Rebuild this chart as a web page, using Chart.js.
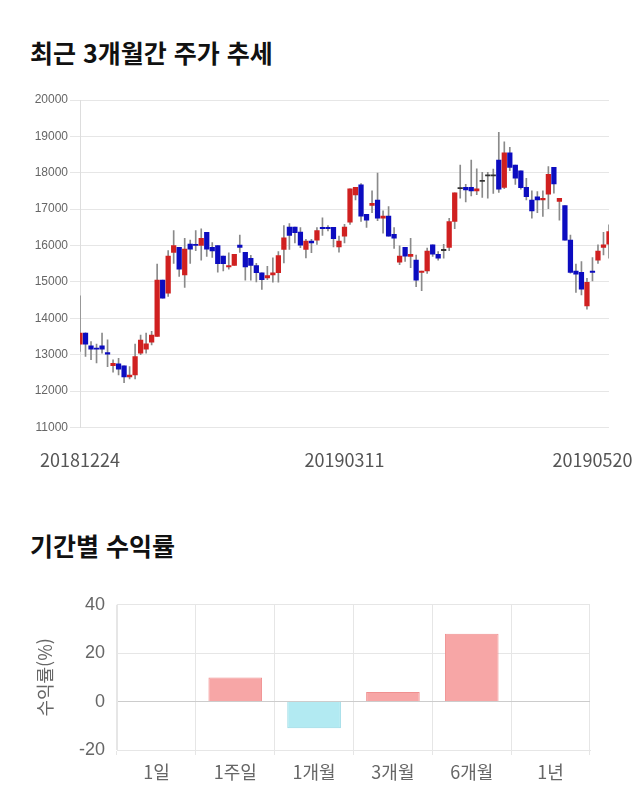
<!DOCTYPE html>
<html lang="ko">
<head>
<meta charset="utf-8">
<title>최근 3개월간 주가 추세</title>
<script src="https://cdn.jsdelivr.net/npm/chart.js@4.4.1/dist/chart.umd.min.js"></script>
<style>
  body { margin: 0; width: 640px; height: 810px; background: #fff; position: relative; font-family: "Noto Sans CJK KR", sans-serif; }
  h2 { position: absolute; left: 30px; margin: 0; font-size: 25px; font-weight: bold; color: #111; line-height: 32px; }
  #t1 { top: 36px; }
  #t2 { top: 529px; }
  .box { position: absolute; left: 0; width: 640px; }
  #b1 { top: 80px; height: 413px; }
  #b2 { top: 582px; height: 218px; }
</style>
</head>
<body>
<h2 id="t1">최근 3개월간 주가 추세</h2>
<div class="box" id="b1"><canvas id="candle"></canvas></div>
<h2 id="t2">기간별 수익률</h2>
<div class="box" id="b2"><canvas id="returns"></canvas></div>
<script>
// 일봉 데이터 (2018.12.24 ~ 2019.05.20)
const dates = [
  '20181224','20181226','20181227','20181228',
  '20190102','20190103','20190104','20190107','20190108','20190109','20190110','20190111',
  '20190114','20190115','20190116','20190117','20190118','20190121','20190122','20190123',
  '20190124','20190125','20190128','20190129','20190130','20190131',
  '20190201','20190207','20190208','20190211','20190212','20190213','20190214','20190215',
  '20190218','20190219','20190220','20190221','20190222','20190225','20190226','20190227','20190228',
  '20190304','20190305','20190306','20190307','20190308','20190311','20190312','20190313',
  '20190314','20190315','20190318','20190319','20190320','20190321','20190322','20190325',
  '20190326','20190327','20190328','20190329',
  '20190401','20190402','20190403','20190404','20190405','20190408','20190409','20190410',
  '20190411','20190412','20190415','20190416','20190417','20190418','20190419','20190422',
  '20190423','20190424','20190425','20190426','20190429','20190430',
  '20190502','20190503','20190507','20190508','20190509','20190510','20190513','20190514',
  '20190515','20190516','20190517','20190520'
];
const opens = [
  13290,13590,13240,13160,13240,13060,12700,12750,12690,12390,12440,13040,13150,13340,13500,15050,
  14690,15810,15950,15190,16040,16030,16000,16360,15950,16000,15710,15410,15450,16010,15810,15650,
  15450,15250,15110,15190,15250,15890,16510,16510,16370,15890,16120,16150,16500,16500,16500,15960,
  16260,16640,17390,17665,16860,17100,17250,16750,16810,16310,15540,15950,15700,15600,15260,15300,
  16020,15760,15860,15950,16660,17560,17600,17600,17500,17760,17910,17910,18350,17600,18550,18210,
  18050,17600,17250,17340,17250,17410,18150,17210,17100,16150,15300,15260,14340,15300,15600,15950,
  16040
];
const highs = [
  14620,13600,13360,13290,13590,13410,12860,12900,12690,12670,13290,13540,13590,13640,15490,15050,
  15860,16410,15950,16200,16150,16410,16460,16360,16080,16000,15710,15800,15760,16290,15810,15730,
  15510,15250,15430,15660,15830,16550,16600,16510,16490,16170,16170,16490,16760,16550,16500,16260,
  16580,17560,17600,17700,16860,17500,17990,16950,17070,16490,15990,15950,16200,15740,15300,15930,
  16020,15830,16030,16750,17450,18210,17680,18350,18110,18010,18010,18100,19110,18850,18700,18210,
  18050,17850,17500,17480,17500,18170,18150,17300,17100,16290,15490,15560,15100,15670,16020,16360,
  16570
];
const lows = [
  13090,12950,12860,12770,13040,12670,12520,12440,12230,12330,12330,13000,13040,13270,13500,14550,
  14600,15510,15150,14850,15510,15860,15600,15700,15670,15270,15300,15350,15450,15810,15050,15050,
  15000,14790,15060,14990,14990,15520,15890,16070,15940,15660,15800,16030,16280,16400,15960,15820,
  16070,16580,17250,16660,16500,16900,16680,16340,16260,15920,15470,15560,15390,14870,14760,15230,
  15700,15600,15650,15860,16460,17300,17200,17360,17400,17320,17300,17430,17460,17560,18060,17680,
  17550,17250,16750,16900,16800,17010,17440,16700,16150,15240,14710,14640,14250,15030,15510,15740,
  15650
];
const closes = [
  13590,13290,13150,13150,13150,13010,12760,12600,12390,12440,12950,13400,13300,13540,15050,14550,
  15710,16000,15350,15900,15900,16000,16200,15900,15850,15500,15500,15450,15760,15950,15410,15450,
  15250,15060,15170,15250,15720,16210,16280,16350,16010,16120,16070,16410,16460,16460,16190,16120,
  16510,17560,17600,16810,16700,17160,16750,16810,16260,16200,15710,15710,15760,15050,15300,15850,
  15760,15650,15860,16660,17450,17560,17530,17500,17560,17760,17910,17910,17550,18550,18150,17850,
  17590,17340,16950,17250,17300,17960,17690,17300,16150,15260,15210,14800,14990,15260,15850,16020,
  16380
];
const priceTicks = ['20181224', '20190311', '20190520'];

// 기간별 수익률
const periods = ['1일', '1주일', '1개월', '3개월', '6개월', '1년'];
const returns = [0, 10, -11, 4, 28, 0];

const UP = '#d02020', DOWN = '#0c0cc0', FLAT = '#333333';
const bodyColors = opens.map((o, i) => closes[i] > o ? UP : (closes[i] < o ? DOWN : FLAT));

new Chart(document.getElementById('candle'), {
  type: 'bar',
  data: {
    labels: dates,
    datasets: [
      {
        label: '시가/종가',
        data: dates.map((d, i) => [opens[i], closes[i]]),
        backgroundColor: bodyColors,
        borderWidth: 0,
        barThickness: 4.6,
        minBarLength: 1.2,
        grouped: false
      },
      {
        label: '고가/저가',
        data: dates.map((d, i) => [lows[i], highs[i]]),
        backgroundColor: '#8a8a8a',
        borderWidth: 0,
        barThickness: 1,
        grouped: false
      }
    ]
  },
  options: {
    responsive: true,
    maintainAspectRatio: false,
    animation: false,
    layout: { padding: { top: 20, right: 31, bottom: 0, left: 0 } },
    plugins: { legend: { display: false }, tooltip: { enabled: false } },
    scales: {
      x: {
        offset: false,
        grid: { display: false, drawTicks: false },
        border: { display: false },
        afterBuildTicks: axis => { axis.ticks = [0, 48, 93].map(v => ({ value: v })); },
        afterFit: axis => { axis.paddingLeft = 0; axis.paddingRight = 0; },
        ticks: {
          autoSkip: false,
          maxRotation: 0,
          padding: 22,
          color: '#555',
          font: { family: 'Noto Sans CJK KR', size: 18 },
          callback: (v, i) => priceTicks[i]
        }
      },
      y: {
        min: 11000,
        max: 20000,
        afterFit: s => { s.width = 80; },
        grid: { color: '#e6e6e6', tickLength: 10 },
        border: { display: true, color: '#dddddd' },
        ticks: {
          stepSize: 1000,
          padding: 2,
          color: '#666',
          font: { family: 'Liberation Sans', size: 12 },
          callback: v => String(v)
        }
      }
    }
  }
});

new Chart(document.getElementById('returns'), {
  type: 'bar',
  data: {
    labels: periods,
    datasets: [{
      label: '수익률',
      data: returns,
      backgroundColor: returns.map(v => v >= 0 ? '#f7a6a6' : '#b2eaf2'),
      borderColor: returns.map(v => v >= 0 ? '#f09090' : '#94d8e4'),
      borderWidth: 1,
      categoryPercentage: 0.8,
      barPercentage: 0.85
    }]
  },
  options: {
    responsive: true,
    maintainAspectRatio: false,
    animation: false,
    layout: { padding: { top: 2, right: 50, bottom: 11.4, left: 30 } },
    plugins: { legend: { display: false }, tooltip: { enabled: false } },
    scales: {
      x: {
        grid: { color: '#e6e6e6', tickLength: 5 },
        border: { color: '#e6e6e6' },
        ticks: {
          padding: 6,
          color: '#666',
          font: { family: 'Noto Sans CJK KR', size: 18 }
        }
      },
      y: {
        min: -20,
        max: 40,
        afterFit: s => { s.width = 87; },
        grid: {
          drawTicks: false,
          color: ctx => ctx.tick.value === 0 ? '#cccccc' : '#e6e6e6'
        },
        border: { color: '#e6e6e6' },
        title: {
          display: true,
          text: '수익률(%)',
          color: '#666',
          font: { family: 'Noto Sans CJK KR', size: 18 }
        },
        ticks: {
          stepSize: 20,
          padding: 12,
          color: '#666',
          font: { family: 'Liberation Sans', size: 18 }
        }
      }
    }
  }
});
</script>
</body>
</html>
